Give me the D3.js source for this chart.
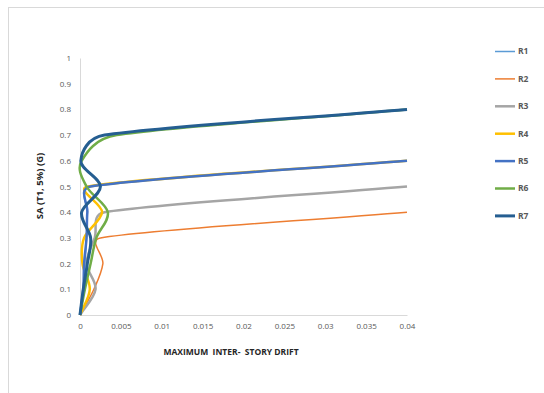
<!DOCTYPE html>
<html>
<head>
<meta charset="utf-8">
<title>IDA curves</title>
<script src="https://cdn.jsdelivr.net/npm/d3@7"></script>
<style>
  * { margin: 0; padding: 0 }
  html, body { width: 544px; height: 393px; background: #fff; overflow: hidden; }
  svg { display: block; }
  text { font-family: "Open Sans", "Liberation Sans", sans-serif; }
</style>
</head>
<body>
<svg id="chart" width="544" height="393"></svg>
<script>
// series names shown in legend
const seriesNames = ["R1", "R2", "R3", "R4", "R5", "R6", "R7"];
// drift / Sa values
const r1Drift = [0, 0.0005, 0.0006, 0.0008, 0.0009, 0.0012, 0.04];
const r1Sa    = [0, 0.1, 0.2, 0.3, 0.4, 0.5, 0.6];
const r2Drift = [0, 0.0017, 0.0028, 0.0025, 0.04];
const r2Sa    = [0, 0.1, 0.2, 0.3, 0.4];
const r3Drift = [0, 0.0019, 0.0008, 0.0018, 0.003, 0.04];
const r3Sa    = [0, 0.1, 0.2, 0.3, 0.4, 0.5];
const r4Drift = [0, 0.0012, 0.0003, 0.0005, 0.0027, 0.001, 0.04];
const r4Sa    = [0, 0.1, 0.2, 0.3, 0.4, 0.5, 0.6];
const r5Drift = [0, 0.0004, 0.0005, 0.0008, 0.0009, 0.0013, 0.04];
const r5Sa    = [0, 0.1, 0.2, 0.3, 0.4, 0.5, 0.6];
const r6Drift = [0, 0.0006, 0.0013, 0.002, 0.0034, 0.0008, 0.0002, 0.0045, 0.04];
const r6Sa    = [0, 0.1, 0.2, 0.3, 0.4, 0.5, 0.6, 0.7, 0.8];
const r7Drift = [0, 0.0004, 0.0009, 0.0013, 0.0002, 0.0025, 0.0001, 0.003, 0.04];
const r7Sa    = [0, 0.1, 0.2, 0.3, 0.4, 0.5, 0.6, 0.7, 0.8];
const xTicks = [0, 0.005, 0.01, 0.015, 0.02, 0.025, 0.03, 0.035, 0.04];
const yTicks = [0, 0.1, 0.2, 0.3, 0.4, 0.5, 0.6, 0.7, 0.8, 0.9, 1];

const colors = ["#5B9BD5", "#ED7D31", "#A5A5A5", "#FFC000", "#4472C4", "#70AD47", "#255E91"];
const widths = [1.5, 1.5, 2.5, 2.5, 2.5, 2.5, 3];

const drifts = [r1Drift, r2Drift, r3Drift, r4Drift, r5Drift, r6Drift, r7Drift];
const sas = [r1Sa, r2Sa, r3Sa, r4Sa, r5Sa, r6Sa, r7Sa];
const series = seriesNames.map((name, i) => ({
  name,
  color: colors[i],
  width: widths[i],
  points: drifts[i].map((d, j) => [d, sas[i][j]])
}));

const svg = d3.select("#chart");
const x = d3.scaleLinear().domain([0, 0.04]).range([80, 407]);
const y = d3.scaleLinear().domain([0, 1]).range([315, 58]);

// chart area border
svg.append("rect")
  .attr("x", 8.5).attr("y", 7.5)
  .attr("width", 700).attr("height", 700)
  .attr("fill", "none").attr("stroke", "#d9d9d9");

// axes
const xAxis = d3.axisBottom(x).tickValues(xTicks).tickSize(0).tickPadding(8)
  .tickFormat(d => d === 0 ? "0" : String(+d.toFixed(3)));
const gx = svg.append("g").attr("transform", "translate(0,315)").call(xAxis);
gx.select(".domain").attr("stroke", "#d9d9d9");
gx.selectAll("text").attr("fill", "#595959").attr("font-size", 8);

const yAxis = d3.axisLeft(y).tickValues(yTicks).tickSize(0).tickPadding(9)
  .tickFormat(d => String(+d.toFixed(1)));
const gy = svg.append("g").attr("transform", "translate(80,0)").call(yAxis);
gy.select(".domain").attr("stroke", "#d9d9d9");
gy.selectAll("text").attr("fill", "#595959").attr("font-size", 8);

// axis titles
svg.append("text")
  .attr("x", 231).attr("y", 355)
  .attr("text-anchor", "middle")
  .attr("font-size", 8.5).attr("font-weight", "bold")
  .attr("fill", "#262626")
  .style("white-space", "pre")
  .text("MAXIMUM  INTER-  STORY DRIFT");

svg.append("text")
  .attr("transform", "translate(43,186) rotate(-90)")
  .attr("text-anchor", "middle")
  .attr("font-size", 9.5).attr("font-weight", "bold")
  .attr("fill", "#262626")
  .text("SA (T1, 5%) (G)");

// spreadsheet-style smoothing: uniform tangents, control arms clamped
// to half of the segment so short hops don't loop
const smooth = (pts) => {
  const P = pts.map(d => [x(d[0]), y(d[1])]);
  const n = P.length;
  const T = P.map((p, i) => {
    const a = P[Math.max(0, i - 1)], b = P[Math.min(n - 1, i + 1)];
    const k = (i === 0 || i === n - 1) ? 1 : 0.5;
    return [(b[0] - a[0]) * k, (b[1] - a[1]) * k];
  });
  const arm = (t, len) => {
    let ax = t[0] / 3, ay = t[1] / 3;
    const l = Math.hypot(ax, ay), m = 0.5 * len;
    if (l > m && l > 0) { ax *= m / l; ay *= m / l; }
    return [ax, ay];
  };
  const path = d3.path();
  path.moveTo(P[0][0], P[0][1]);
  for (let i = 0; i < n - 1; i++) {
    const len = Math.hypot(P[i + 1][0] - P[i][0], P[i + 1][1] - P[i][1]);
    const a1 = arm(T[i], len), a2 = arm(T[i + 1], len);
    path.bezierCurveTo(P[i][0] + a1[0], P[i][1] + a1[1],
      P[i + 1][0] - a2[0], P[i + 1][1] - a2[1],
      P[i + 1][0], P[i + 1][1]);
  }
  return path.toString();
};

svg.append("g").selectAll("path")
  .data(series)
  .join("path")
  .attr("d", d => smooth(d.points))
  .attr("fill", "none")
  .attr("stroke", d => d.color)
  .attr("stroke-width", d => d.width)
  .attr("stroke-linejoin", "round");

// legend
const legend = svg.append("g").selectAll("g")
  .data(series)
  .join("g")
  .attr("transform", (d, i) => `translate(495,${51.5 + i * 27.4})`);
legend.append("line")
  .attr("x1", 0).attr("x2", 20)
  .attr("stroke", d => d.color)
  .attr("stroke-width", d => d.width);
legend.append("text")
  .attr("x", 23).attr("dy", "0.35em")
  .attr("font-size", 8.5).attr("font-weight", "bold")
  .attr("fill", "#595959")
  .text(d => d.name);
</script>
</body>
</html>
